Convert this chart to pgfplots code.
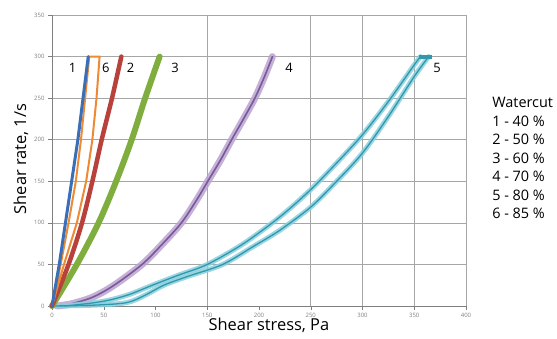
\documentclass[border=0pt]{standalone}
\usepackage{pgfplots}
\pgfplotsset{compat=1.18}
\usepackage{fontspec}
\setmainfont{Open Sans}
\definecolor{c1}{HTML}{3A6FB7}
\definecolor{c6}{HTML}{EE8A33}
\definecolor{c2}{HTML}{B8413C}
\definecolor{c3}{HTML}{7FAE3F}
\definecolor{c4}{HTML}{7B579C}
\definecolor{c4l}{HTML}{B9A3CF}
\definecolor{c5}{HTML}{2F98AD}
\definecolor{c5l}{HTML}{8ACFDD}
\definecolor{gridc}{HTML}{A6A6A6}
\definecolor{tickc}{HTML}{7F7F7F}
\pgfplotstableread{
x y
5 0
20 3
40 11
60 25
87 50
107 75
125 100
139 126
151 151
163 176
174 201
185 225
196 250
205 275
213 300
}\tabfour
\pgfplotstableread{
x y
12 0
35 3
55 7
75 14
97 25
122 37
150 50
185 75
220 107
250 140
275 172
300 206
325 246
350 290
356 300
}\tabfiveup
\pgfplotstableread{
x y
364 300
350 276
325 228
300 184
275 150
250 119
220 91
195 72
165 50
132 36
108 25
90 13
72 4
40 1
0 0
}\tabfivedown
\begin{document}
\begin{tikzpicture}
\begin{axis}[
  scale only axis,
  width=414bp, height=291bp,
  xmin=0, xmax=400, ymin=0, ymax=350,
  xtick={0,50,...,400}, ytick={0,50,...,350},
  axis x line*=bottom, axis y line*=left,
  axis line style={draw=tickc, line width=0.6pt, -},
  tick align=outside, major tick length=4bp,
  tick style={draw=tickc, line width=0.5pt},
  ymajorgrids,
  grid style={draw=gridc, line width=0.6pt},
  extra x ticks={150,250,300,350,400},
  extra x tick labels={},
  extra x tick style={grid=major, major tick length=0pt},
  ticklabel style={font=\fontsize{6}{7}\selectfont, text=tickc},
  /pgf/number format/assume math mode=true,
  xlabel={Shear stress, Pa},
  ylabel={Shear rate, 1/s},
  label style={font=\fontsize{16.5}{18}\selectfont},
  xlabel style={at={(axis description cs:0.524,-0.068)}, anchor=center},
  ylabel style={at={(axis description cs:-0.075,0.505)}, anchor=center},
  clip=false,
  every axis plot/.append style={line join=round, line cap=round},
]
\coordinate (sw) at (rel axis cs:0,0);
% 4 - 70 %
\addplot[c4l, line width=7bp, smooth, opacity=0.85] table {\tabfour};
\addplot[c4, line width=1.6bp, smooth] table {\tabfour};
% 5 - 80 %
\addplot[c5l, line width=5bp, smooth, opacity=0.85] table {\tabfiveup};
\addplot[c5l, line width=5bp, smooth, opacity=0.85] table {\tabfivedown};
\addplot[c5, line width=1.3bp, smooth] table {\tabfiveup};
\addplot[c5, line width=1.3bp, smooth] table {\tabfivedown};
\addplot[c5, line width=4bp, line cap=butt] coordinates {(355,300)(367,300)};
% 3 - 60 %
\addplot[c3, line width=6bp, smooth] coordinates {(0,0)(24,50)(45,100)(62,150)(77,200)(90,250)(104,300)};
% 2 - 50 %
\addplot[c2, line width=4.5bp, smooth] coordinates {(0,0)(16,50)(29,100)(39,150)(48,200)(58,250)(67,300)};
% 6 - 85 %
\addplot[c6, line width=2bp, line join=miter] coordinates {(0,0)(8.4,50)(16,100)(23,150)(28,200)(32,250)(36,300)(46,300)(43,250)(39,200)(33,150)(24,100)(11.6,50)(0,0)};
% 1 - 40 %
\addplot[c1, line width=3bp] coordinates {(0,0)(7,50)(13,100)(19,150)(25,200)(30,250)(35,300)};
% curve labels
\begin{scope}[every node/.style={font=\fontsize{13}{14}\selectfont, anchor=center}]
\node at (axis cs:20,286) {1};
\node at (axis cs:52,286) {6};
\node at (axis cs:76,286) {2};
\node at (axis cs:119,286) {3};
\node at (axis cs:229,286) {4};
\node at (axis cs:372,286) {5};
\end{scope}
\node[anchor=north west, align=left, inner sep=0pt, font=\fontsize{14.5}{18.6}\selectfont]
  at (rel axis cs:1.063,0.718) {Watercut\\1 - 40 \%\\2 - 50 \%\\3 - 60 \%\\4 - 70 \%\\5 - 80 \%\\6 - 85 \%};
\end{axis}
\path (sw) ++(-52bp,-33bp) rectangle ++(557bp,339bp);
\end{tikzpicture}
\end{document}
